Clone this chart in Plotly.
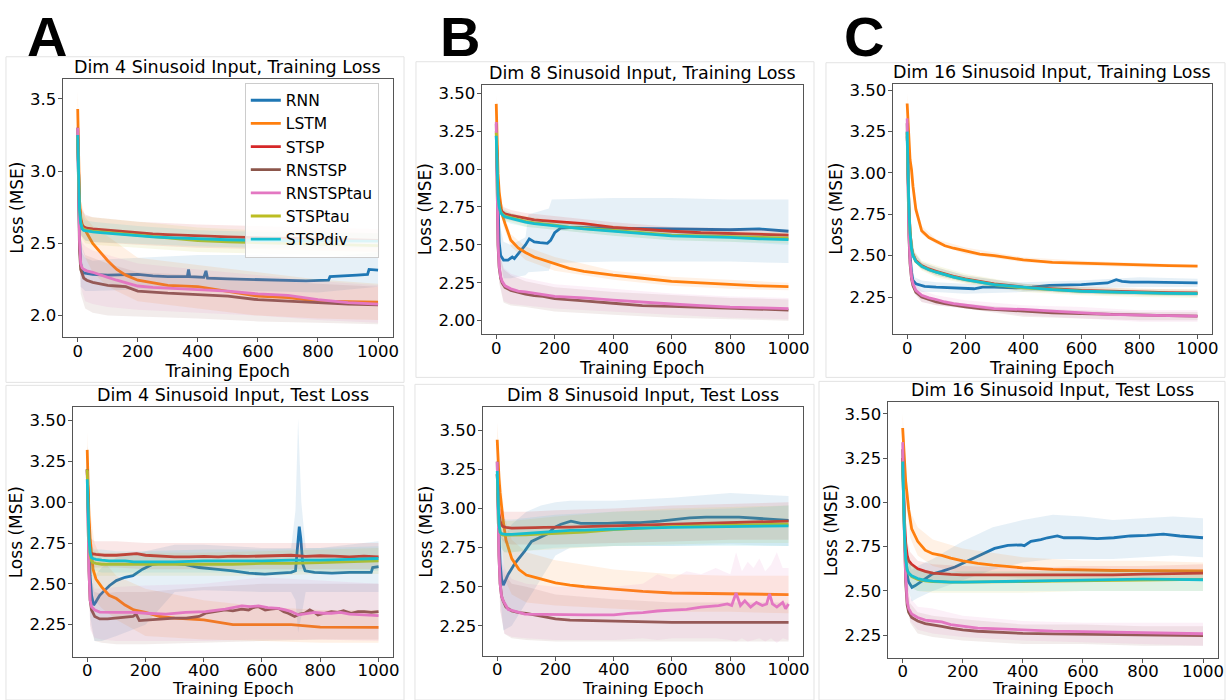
import plotly.graph_objects as go

W, H = 1231, 700
MODELS = ["RNN", "LSTM", "STSP", "RNSTSP", "RNSTSPtau", "STSPtau", "STSPdiv"]
COLORS = {"RNN": "#1f77b4", "LSTM": "#ff7f0e", "STSP": "#d62728", "RNSTSP": "#8c564b",
          "RNSTSPtau": "#e377c2", "STSPtau": "#bcbd22", "STSPdiv": "#17becf"}

EPOCHS = [0, 3, 6, 10, 15, 20, 30, 50, 75, 100, 130, 160, 200, 250, 300, 400, 500, 600, 700, 800, 900, 1000]
BAND_EPOCHS = [0, 10, 25, 50, 100, 200, 400, 600, 800, 1000]
X_TICKS = [0, 200, 400, 600, 800, 1000]

# ---------------- Panel A, training loss ----------------
A1_TITLE = "Dim 4 Sinusoid Input, Training Loss"
A1_MEAN = {
    "LSTM": [3.43, 3.05, 2.80, 2.68, 2.63, 2.61, 2.57, 2.50, 2.44, 2.38, 2.32, 2.28, 2.245, 2.225, 2.21, 2.20, 2.165, 2.135, 2.125, 2.10, 2.097, 2.094],
    "STSP": [3.25, 2.95, 2.75, 2.66, 2.625, 2.615, 2.605, 2.60, 2.595, 2.59, 2.585, 2.58, 2.57, 2.565, 2.56, 2.55, 2.545, 2.54, 2.535, 2.53, 2.525, 2.52],
    "RNSTSP": [3.30, 2.75, 2.45, 2.32, 2.28, 2.26, 2.245, 2.23, 2.22, 2.21, 2.205, 2.20, 2.17, 2.16, 2.155, 2.145, 2.135, 2.11, 2.10, 2.085, 2.08, 2.075],
    "RNSTSPtau": [3.30, 2.80, 2.52, 2.36, 2.33, 2.32, 2.31, 2.30, 2.28, 2.265, 2.245, 2.23, 2.205, 2.195, 2.19, 2.18, 2.17, 2.15, 2.14, 2.11, 2.09, 2.08],
    "STSPtau": [3.24, 2.94, 2.74, 2.65, 2.61, 2.60, 2.59, 2.585, 2.58, 2.575, 2.57, 2.565, 2.56, 2.545, 2.535, 2.52, 2.51, 2.505, 2.50, 2.495, 2.49, 2.485],
    "STSPdiv": [3.25, 2.94, 2.73, 2.64, 2.60, 2.59, 2.585, 2.58, 2.575, 2.57, 2.565, 2.56, 2.555, 2.545, 2.54, 2.53, 2.525, 2.52, 2.52, 2.518, 2.516, 2.515],
}
A1_OWN_X = {"RNN": [0, 3, 6, 10, 15, 20, 50, 100, 150, 200, 250, 300, 365, 369, 373, 420, 427, 432, 500, 600, 700, 760, 835, 840, 930, 965, 970, 1000]}
A1_OWN_Y = {"RNN": [3.22, 2.85, 2.55, 2.36, 2.31, 2.295, 2.285, 2.28, 2.28, 2.285, 2.275, 2.27, 2.27, 2.32, 2.27, 2.265, 2.31, 2.26, 2.255, 2.25, 2.245, 2.24, 2.245, 2.27, 2.28, 2.285, 2.32, 2.315]}
A1_LO = {
    "RNN": [3.10, 2.20, 2.17, 2.17, 2.17, 2.18, 2.18, 2.17, 2.16, 2.20],
    "LSTM": [3.30, 2.50, 2.40, 2.30, 2.20, 2.10, 2.05, 2.00, 1.98, 1.97],
    "STSP": [3.15, 2.56, 2.52, 2.51, 2.50, 2.49, 2.47, 2.46, 2.45, 2.44],
    "RNSTSP": [3.15, 2.15, 2.05, 2.02, 2.00, 1.99, 1.98, 1.96, 1.95, 1.94],
    "RNSTSPtau": [3.15, 2.20, 2.10, 2.08, 2.06, 2.04, 2.02, 2.00, 1.97, 1.95],
    "STSPtau": [3.14, 2.55, 2.50, 2.49, 2.48, 2.47, 2.44, 2.43, 2.42, 2.41],
    "STSPdiv": [3.15, 2.56, 2.52, 2.51, 2.51, 2.50, 2.48, 2.47, 2.47, 2.47],
}
A1_HI = {
    "RNN": [3.35, 2.45, 2.40, 2.38, 2.39, 2.40, 2.42, 2.42, 2.40, 2.44],
    "LSTM": [3.56, 2.80, 2.68, 2.62, 2.55, 2.40, 2.35, 2.30, 2.25, 2.22],
    "STSP": [3.35, 2.75, 2.70, 2.68, 2.67, 2.65, 2.63, 2.62, 2.61, 2.60],
    "RNSTSP": [3.45, 2.50, 2.42, 2.40, 2.36, 2.30, 2.28, 2.25, 2.22, 2.20],
    "RNSTSPtau": [3.45, 2.52, 2.48, 2.45, 2.42, 2.36, 2.32, 2.28, 2.24, 2.21],
    "STSPtau": [3.34, 2.74, 2.69, 2.68, 2.67, 2.65, 2.61, 2.59, 2.58, 2.57],
    "STSPdiv": [3.35, 2.72, 2.66, 2.65, 2.64, 2.62, 2.59, 2.58, 2.57, 2.57],
}
A1_BAND_X = {}
A1_YTICKS = [2.0, 2.5, 3.0, 3.5]

# ---------------- Panel B, training loss ----------------
B1_TITLE = "Dim 8 Sinusoid Input, Training Loss"
B1_MEAN = {
    "LSTM": [3.43, 3.15, 2.97, 2.85, 2.76, 2.70, 2.64, 2.53, 2.48, 2.45, 2.42, 2.40, 2.375, 2.345, 2.325, 2.30, 2.28, 2.26, 2.25, 2.24, 2.23, 2.225],
    "STSP": [3.25, 3.00, 2.85, 2.77, 2.735, 2.72, 2.705, 2.695, 2.685, 2.675, 2.665, 2.66, 2.655, 2.645, 2.64, 2.615, 2.60, 2.59, 2.58, 2.575, 2.57, 2.565],
    "RNSTSP": [3.30, 2.80, 2.50, 2.35, 2.28, 2.25, 2.22, 2.20, 2.185, 2.175, 2.165, 2.16, 2.145, 2.14, 2.13, 2.115, 2.10, 2.095, 2.09, 2.085, 2.075, 2.07],
    "RNSTSPtau": [3.31, 2.82, 2.52, 2.36, 2.29, 2.26, 2.23, 2.21, 2.195, 2.19, 2.18, 2.17, 2.16, 2.155, 2.15, 2.135, 2.12, 2.11, 2.10, 2.09, 2.085, 2.08],
    "STSPtau": [3.24, 2.99, 2.84, 2.76, 2.72, 2.705, 2.69, 2.68, 2.665, 2.655, 2.645, 2.64, 2.63, 2.615, 2.61, 2.595, 2.58, 2.565, 2.56, 2.555, 2.55, 2.545],
    "STSPdiv": [3.22, 2.98, 2.83, 2.75, 2.715, 2.70, 2.685, 2.675, 2.66, 2.65, 2.64, 2.635, 2.625, 2.615, 2.605, 2.59, 2.575, 2.56, 2.555, 2.55, 2.54, 2.535],
}
B1_OWN_X = {"RNN": [0, 3, 6, 10, 15, 20, 25, 40, 55, 62, 75, 90, 100, 113, 130, 150, 175, 186, 200, 220, 266, 400, 600, 700, 800, 900, 1000]}
B1_OWN_Y = {"RNN": [3.22, 2.95, 2.70, 2.52, 2.43, 2.41, 2.40, 2.40, 2.42, 2.41, 2.44, 2.47, 2.50, 2.54, 2.52, 2.515, 2.51, 2.53, 2.58, 2.61, 2.615, 2.61, 2.605, 2.60, 2.60, 2.605, 2.59]}
B1_BAND_X = {"RNN": [0, 10, 25, 50, 100, 110, 180, 190, 400, 600, 800, 1000]}
B1_LO = {
    "RNN": [3.10, 2.45, 2.28, 2.28, 2.30, 2.32, 2.33, 2.38, 2.39, 2.39, 2.39, 2.38],
    "LSTM": [3.38, 2.80, 2.62, 2.49, 2.40, 2.33, 2.27, 2.23, 2.21, 2.20],
    "STSP": [3.20, 2.74, 2.67, 2.66, 2.64, 2.62, 2.59, 2.56, 2.54, 2.53],
    "RNSTSP": [3.20, 2.25, 2.12, 2.10, 2.09, 2.06, 2.04, 2.02, 2.01, 2.00],
    "RNSTSPtau": [3.20, 2.26, 2.13, 2.11, 2.10, 2.08, 2.06, 2.04, 2.02, 2.01],
    "STSPtau": [3.19, 2.73, 2.66, 2.65, 2.62, 2.60, 2.56, 2.53, 2.52, 2.51],
    "STSPdiv": [3.17, 2.72, 2.66, 2.64, 2.62, 2.60, 2.56, 2.53, 2.52, 2.50],
}
B1_HI = {
    "RNN": [3.35, 2.65, 2.52, 2.50, 2.55, 2.70, 2.74, 2.80, 2.81, 2.81, 2.80, 2.80],
    "LSTM": [3.49, 2.90, 2.70, 2.57, 2.49, 2.42, 2.33, 2.29, 2.27, 2.25],
    "STSP": [3.30, 2.81, 2.75, 2.73, 2.71, 2.69, 2.65, 2.62, 2.61, 2.60],
    "RNSTSP": [3.40, 2.45, 2.34, 2.30, 2.26, 2.22, 2.19, 2.17, 2.15, 2.14],
    "RNSTSPtau": [3.42, 2.46, 2.35, 2.31, 2.28, 2.24, 2.21, 2.18, 2.16, 2.15],
    "STSPtau": [3.29, 2.80, 2.74, 2.71, 2.69, 2.66, 2.63, 2.60, 2.59, 2.58],
    "STSPdiv": [3.27, 2.79, 2.73, 2.71, 2.68, 2.65, 2.62, 2.59, 2.58, 2.57],
}
B1_YTICKS = [2.00, 2.25, 2.50, 2.75, 3.00, 3.25, 3.50]

# ---------------- Panel C, training loss ----------------
C1_TITLE = "Dim 16 Sinusoid Input, Training Loss"
C1_MEAN = {
    "LSTM": [3.42, 3.30, 3.18, 3.08, 3.02, 2.92, 2.78, 2.65, 2.61, 2.585, 2.56, 2.545, 2.53, 2.51, 2.50, 2.475, 2.46, 2.455, 2.447, 2.443, 2.44, 2.437],
    "STSP": [3.25, 3.00, 2.80, 2.65, 2.55, 2.51, 2.47, 2.44, 2.42, 2.405, 2.39, 2.375, 2.36, 2.345, 2.33, 2.31, 2.30, 2.29, 2.285, 2.28, 2.277, 2.275],
    "RNSTSP": [3.30, 2.90, 2.62, 2.45, 2.36, 2.32, 2.28, 2.25, 2.235, 2.22, 2.21, 2.20, 2.19, 2.18, 2.175, 2.165, 2.155, 2.15, 2.145, 2.14, 2.138, 2.135],
    "RNSTSPtau": [3.33, 2.92, 2.64, 2.47, 2.37, 2.33, 2.29, 2.26, 2.245, 2.235, 2.22, 2.21, 2.20, 2.19, 2.18, 2.175, 2.165, 2.155, 2.145, 2.14, 2.137, 2.135],
    "STSPtau": [3.24, 2.99, 2.79, 2.64, 2.545, 2.505, 2.465, 2.435, 2.415, 2.40, 2.385, 2.37, 2.355, 2.34, 2.325, 2.305, 2.295, 2.285, 2.28, 2.275, 2.272, 2.27],
    "STSPdiv": [3.25, 2.99, 2.79, 2.64, 2.54, 2.50, 2.465, 2.435, 2.415, 2.40, 2.385, 2.37, 2.355, 2.34, 2.325, 2.31, 2.295, 2.285, 2.28, 2.275, 2.272, 2.27],
}
C1_OWN_X = {"RNN": [0, 3, 6, 10, 15, 20, 30, 60, 100, 150, 200, 230, 260, 300, 370, 430, 490, 600, 690, 705, 720, 740, 770, 830, 1000]}
C1_OWN_Y = {"RNN": [3.22, 2.95, 2.68, 2.50, 2.40, 2.35, 2.33, 2.315, 2.31, 2.305, 2.30, 2.30, 2.31, 2.31, 2.305, 2.31, 2.32, 2.325, 2.335, 2.345, 2.355, 2.345, 2.34, 2.34, 2.335]}
C1_BAND_X = {}
C1_LO = {
    "RNN": [3.15, 2.45, 2.30, 2.28, 2.28, 2.27, 2.28, 2.30, 2.31, 2.31],
    "LSTM": [3.38, 3.04, 2.80, 2.63, 2.57, 2.51, 2.46, 2.44, 2.43, 2.43],
    "STSP": [3.20, 2.62, 2.47, 2.42, 2.38, 2.34, 2.29, 2.27, 2.26, 2.255],
    "RNSTSP": [3.25, 2.42, 2.27, 2.22, 2.20, 2.18, 2.13, 2.12, 2.11, 2.11],
    "RNSTSPtau": [3.28, 2.43, 2.28, 2.22, 2.20, 2.18, 2.14, 2.12, 2.10, 2.10],
    "STSPtau": [3.19, 2.61, 2.46, 2.41, 2.37, 2.33, 2.28, 2.26, 2.25, 2.245],
    "STSPdiv": [3.20, 2.61, 2.47, 2.42, 2.38, 2.34, 2.29, 2.27, 2.26, 2.255],
}
C1_HI = {
    "RNN": [3.30, 2.56, 2.37, 2.35, 2.34, 2.33, 2.34, 2.35, 2.37, 2.36],
    "LSTM": [3.48, 3.12, 2.86, 2.68, 2.60, 2.55, 2.49, 2.47, 2.455, 2.445],
    "STSP": [3.30, 2.68, 2.52, 2.46, 2.43, 2.38, 2.33, 2.31, 2.30, 2.295],
    "RNSTSP": [3.35, 2.48, 2.31, 2.26, 2.24, 2.21, 2.18, 2.17, 2.16, 2.16],
    "RNSTSPtau": [3.38, 2.51, 2.34, 2.29, 2.26, 2.23, 2.20, 2.19, 2.17, 2.17],
    "STSPtau": [3.29, 2.68, 2.53, 2.47, 2.44, 2.39, 2.33, 2.31, 2.30, 2.295],
    "STSPdiv": [3.30, 2.67, 2.52, 2.46, 2.43, 2.38, 2.33, 2.30, 2.29, 2.285],
}
C1_YTICKS = [2.25, 2.50, 2.75, 3.00, 3.25, 3.50]

# ---------------- Panel A, test loss ----------------
A2_TITLE = "Dim 4 Sinusoid Input, Test Loss"
A2_MEAN = {
    "LSTM": [3.32, 3.10, 2.92, 2.78, 2.66, 2.59, 2.53, 2.48, 2.43, 2.41, 2.37, 2.34, 2.325, 2.30, 2.29, 2.28, 2.25, 2.25, 2.25, 2.235, 2.234, 2.234],
    "STSPtau": [3.20, 2.95, 2.78, 2.68, 2.64, 2.63, 2.625, 2.62, 2.62, 2.62, 2.62, 2.62, 2.62, 2.62, 2.62, 2.62, 2.62, 2.625, 2.625, 2.63, 2.635, 2.64],
    "STSPdiv": [3.14, 2.92, 2.78, 2.69, 2.66, 2.655, 2.65, 2.645, 2.64, 2.64, 2.64, 2.635, 2.635, 2.635, 2.635, 2.64, 2.64, 2.64, 2.645, 2.645, 2.65, 2.655],
}
A2_OWN_X = {
    "RNN": [0, 3, 6, 10, 15, 22, 30, 43, 60, 77, 100, 130, 157, 190, 225, 270, 330, 384, 440, 500, 555, 610, 660, 700, 715, 722, 728, 733, 740, 748, 780, 840, 900, 975, 980, 1000],
    "STSP": [0, 3, 6, 10, 15, 30, 60, 100, 150, 170, 200, 250, 300, 350, 400, 450, 500, 550, 600, 650, 700, 750, 800, 850, 900, 950, 1000],
    "RNSTSP": [0, 3, 6, 10, 15, 26, 43, 70, 100, 134, 157, 168, 179, 213, 250, 300, 340, 384, 406, 440, 474, 500, 530, 554, 570, 588, 611, 630, 656, 675, 690, 712, 730, 747, 764, 780, 792, 815, 838, 860, 880, 906, 930, 951, 975, 1000],
    "RNSTSPtau": [0, 3, 6, 10, 15, 26, 43, 100, 157, 202, 270, 338, 406, 474, 497, 531, 560, 588, 620, 656, 680, 701, 724, 750, 781, 810, 838, 870, 900, 951, 980, 1000],
}
A2_OWN_Y = {
    "RNN": [3.20, 2.95, 2.72, 2.55, 2.43, 2.37, 2.39, 2.43, 2.46, 2.49, 2.52, 2.54, 2.55, 2.59, 2.62, 2.63, 2.62, 2.60, 2.59, 2.58, 2.565, 2.56, 2.565, 2.57, 2.58, 2.75, 2.85, 2.78, 2.62, 2.58, 2.57, 2.565, 2.57, 2.57, 2.60, 2.605],
    "STSP": [3.20, 2.95, 2.80, 2.70, 2.685, 2.68, 2.675, 2.675, 2.68, 2.685, 2.675, 2.67, 2.665, 2.665, 2.668, 2.665, 2.67, 2.668, 2.67, 2.672, 2.675, 2.668, 2.672, 2.67, 2.665, 2.67, 2.665],
    "RNSTSP": [3.20, 2.85, 2.58, 2.40, 2.34, 2.30, 2.285, 2.285, 2.29, 2.295, 2.30, 2.315, 2.275, 2.28, 2.285, 2.29, 2.29, 2.30, 2.32, 2.33, 2.34, 2.335, 2.345, 2.34, 2.355, 2.36, 2.34, 2.345, 2.35, 2.33, 2.32, 2.30, 2.315, 2.32, 2.34, 2.325, 2.31, 2.32, 2.33, 2.325, 2.335, 2.32, 2.33, 2.33, 2.325, 2.33],
    "RNSTSPtau": [3.19, 2.85, 2.58, 2.40, 2.36, 2.34, 2.327, 2.325, 2.325, 2.32, 2.315, 2.325, 2.33, 2.345, 2.355, 2.365, 2.36, 2.365, 2.355, 2.35, 2.34, 2.33, 2.31, 2.315, 2.325, 2.32, 2.32, 2.325, 2.315, 2.31, 2.31, 2.306],
}
A2_BAND_X = {"RNN": [0, 10, 25, 50, 100, 200, 300, 400, 600, 700, 715, 724, 735, 750, 800, 1000]}
A2_LO = {
    "RNN": [3.05, 2.30, 2.15, 2.15, 2.18, 2.25, 2.45, 2.46, 2.45, 2.45, 2.40, 2.20, 2.30, 2.45, 2.45, 2.45],
    "LSTM": [3.20, 2.62, 2.40, 2.35, 2.28, 2.18, 2.16, 2.15, 2.14, 2.14],
    "STSP": [3.05, 2.62, 2.60, 2.60, 2.60, 2.59, 2.59, 2.59, 2.59, 2.59],
    "RNSTSP": [3.05, 2.25, 2.15, 2.14, 2.13, 2.13, 2.14, 2.15, 2.16, 2.16],
    "RNSTSPtau": [3.05, 2.22, 2.17, 2.16, 2.15, 2.15, 2.15, 2.16, 2.16, 2.15],
    "STSPtau": [3.05, 2.58, 2.55, 2.55, 2.55, 2.55, 2.55, 2.55, 2.56, 2.56],
    "STSPdiv": [3.00, 2.60, 2.58, 2.57, 2.57, 2.57, 2.57, 2.57, 2.58, 2.58],
}
A2_HI = {
    "RNN": [3.35, 2.65, 2.55, 2.60, 2.66, 2.70, 2.74, 2.74, 2.72, 2.72, 2.95, 3.51, 3.00, 2.72, 2.72, 2.76],
    "LSTM": [3.43, 2.95, 2.75, 2.65, 2.55, 2.47, 2.40, 2.36, 2.34, 2.34],
    "STSP": [3.35, 2.78, 2.76, 2.76, 2.76, 2.75, 2.75, 2.75, 2.75, 2.75],
    "RNSTSP": [3.35, 2.55, 2.45, 2.44, 2.45, 2.45, 2.48, 2.50, 2.50, 2.50],
    "RNSTSPtau": [3.33, 2.56, 2.47, 2.47, 2.48, 2.49, 2.50, 2.54, 2.52, 2.50],
    "STSPtau": [3.35, 2.74, 2.70, 2.69, 2.69, 2.69, 2.69, 2.70, 2.71, 2.72],
    "STSPdiv": [3.28, 2.74, 2.71, 2.71, 2.70, 2.70, 2.71, 2.71, 2.72, 2.73],
}
A2_YTICKS = [2.25, 2.50, 2.75, 3.00, 3.25, 3.50]

# ---------------- Panel B, test loss ----------------
B2_TITLE = "Dim 8 Sinusoid Input, Test Loss"
B2_MEAN = {
    "LSTM": [3.44, 3.30, 3.20, 3.10, 3.01, 2.93, 2.80, 2.68, 2.61, 2.575, 2.56, 2.545, 2.525, 2.51, 2.50, 2.485, 2.47, 2.46, 2.457, 2.455, 2.452, 2.45],
    "STSP": [3.22, 3.05, 2.97, 2.92, 2.895, 2.885, 2.88, 2.875, 2.875, 2.875, 2.878, 2.88, 2.88, 2.882, 2.885, 2.89, 2.895, 2.90, 2.905, 2.91, 2.915, 2.92],
    "RNSTSP": [3.30, 2.95, 2.70, 2.52, 2.44, 2.41, 2.37, 2.345, 2.335, 2.33, 2.32, 2.31, 2.295, 2.287, 2.285, 2.277, 2.273, 2.272, 2.272, 2.272, 2.27, 2.272],
    "STSPtau": [3.22, 3.00, 2.90, 2.85, 2.835, 2.83, 2.83, 2.83, 2.83, 2.832, 2.835, 2.838, 2.84, 2.845, 2.85, 2.865, 2.875, 2.885, 2.89, 2.895, 2.898, 2.90],
    "STSPdiv": [3.24, 3.00, 2.90, 2.85, 2.84, 2.838, 2.835, 2.835, 2.838, 2.84, 2.845, 2.85, 2.855, 2.86, 2.862, 2.87, 2.875, 2.88, 2.882, 2.885, 2.888, 2.89],
}
B2_OWN_X = {
    "RNN": [0, 3, 6, 10, 15, 21, 38, 61, 95, 118, 152, 174, 197, 219, 253, 287, 378, 434, 491, 559, 661, 717, 830, 943, 1000],
    "RNSTSPtau": [0, 3, 6, 10, 15, 21, 38, 95, 200, 300, 400, 450, 500, 550, 600, 650, 700, 730, 760, 790, 805, 820, 835, 850, 870, 890, 910, 925, 935, 945, 960, 980, 990, 1000],
}
B2_OWN_Y = {
    "RNN": [3.22, 3.00, 2.80, 2.65, 2.55, 2.51, 2.58, 2.65, 2.73, 2.79, 2.82, 2.84, 2.88, 2.90, 2.92, 2.905, 2.905, 2.91, 2.91, 2.92, 2.94, 2.945, 2.945, 2.93, 2.925],
    "RNSTSPtau": [3.30, 2.95, 2.70, 2.52, 2.44, 2.41, 2.355, 2.325, 2.32, 2.32, 2.32, 2.33, 2.335, 2.345, 2.35, 2.355, 2.37, 2.375, 2.38, 2.39, 2.38, 2.46, 2.38, 2.41, 2.37, 2.40, 2.38, 2.39, 2.455, 2.39, 2.37, 2.40, 2.36, 2.39],
}
B2_BAND_X = {
    "RNN": [0, 10, 21, 50, 100, 150, 200, 250, 400, 600, 800, 1000],
    "RNSTSPtau": [0, 10, 25, 50, 100, 200, 400, 500, 550, 600, 650, 700, 750, 800, 820, 840, 860, 880, 900, 920, 940, 960, 980, 1000],
}
B2_LO = {
    "RNN": [3.10, 2.45, 2.22, 2.25, 2.40, 2.55, 2.70, 2.75, 2.76, 2.76, 2.77, 2.76],
    "LSTM": [3.35, 2.95, 2.55, 2.45, 2.40, 2.38, 2.36, 2.34, 2.34, 2.33],
    "STSP": [3.12, 2.82, 2.78, 2.77, 2.77, 2.77, 2.78, 2.79, 2.80, 2.80],
    "RNSTSP": [3.20, 2.35, 2.20, 2.17, 2.16, 2.15, 2.15, 2.15, 2.15, 2.15],
    "RNSTSPtau": [3.20, 2.35, 2.20, 2.18, 2.17, 2.16, 2.16, 2.17, 2.16, 2.17, 2.17, 2.17, 2.17, 2.16, 2.15, 2.17, 2.15, 2.16, 2.17, 2.15, 2.17, 2.14, 2.17, 2.16],
    "STSPtau": [3.12, 2.76, 2.72, 2.72, 2.73, 2.74, 2.76, 2.77, 2.78, 2.78],
    "STSPdiv": [3.14, 2.75, 2.72, 2.72, 2.73, 2.75, 2.76, 2.76, 2.76, 2.76],
}
B2_HI = {
    "RNN": [3.35, 2.85, 2.80, 2.90, 2.98, 3.02, 3.04, 3.05, 3.05, 3.07, 3.10, 3.08],
    "LSTM": [3.55, 3.25, 2.95, 2.80, 2.72, 2.67, 2.61, 2.58, 2.57, 2.57],
    "STSP": [3.32, 3.00, 2.98, 2.98, 2.98, 2.99, 3.00, 3.02, 3.03, 3.04],
    "RNSTSP": [3.40, 2.70, 2.58, 2.52, 2.50, 2.45, 2.42, 2.40, 2.40, 2.40],
    "RNSTSPtau": [3.40, 2.72, 2.62, 2.55, 2.52, 2.50, 2.50, 2.52, 2.58, 2.55, 2.60, 2.58, 2.62, 2.58, 2.72, 2.60, 2.66, 2.62, 2.68, 2.60, 2.64, 2.72, 2.62, 2.62],
    "STSPtau": [3.32, 2.94, 2.92, 2.92, 2.93, 2.95, 2.98, 3.00, 3.01, 3.02],
    "STSPdiv": [3.34, 2.95, 2.93, 2.93, 2.94, 2.96, 2.98, 2.99, 3.00, 3.02],
}
B2_YTICKS = [2.25, 2.50, 2.75, 3.00, 3.25, 3.50]

# ---------------- Panel C, test loss ----------------
C2_TITLE = "Dim 16 Sinusoid Input, Test Loss"
C2_MEAN = {
    "LSTM": [3.42, 3.30, 3.20, 3.12, 3.04, 2.96, 2.85, 2.78, 2.73, 2.71, 2.70, 2.685, 2.67, 2.655, 2.645, 2.63, 2.622, 2.617, 2.615, 2.614, 2.613, 2.613],
    "STSP": [3.25, 3.05, 2.90, 2.77, 2.70, 2.67, 2.65, 2.625, 2.61, 2.60, 2.595, 2.593, 2.59, 2.59, 2.59, 2.59, 2.59, 2.592, 2.59, 2.595, 2.598, 2.60],
    "RNSTSP": [3.30, 3.00, 2.75, 2.55, 2.42, 2.38, 2.35, 2.33, 2.315, 2.31, 2.30, 2.29, 2.28, 2.272, 2.268, 2.26, 2.257, 2.255, 2.253, 2.252, 2.25, 2.248],
    "RNSTSPtau": [3.34, 3.02, 2.78, 2.58, 2.44, 2.40, 2.37, 2.35, 2.335, 2.33, 2.325, 2.31, 2.30, 2.29, 2.287, 2.278, 2.273, 2.27, 2.267, 2.265, 2.262, 2.258],
    "STSPtau": [3.23, 3.00, 2.82, 2.68, 2.62, 2.60, 2.58, 2.565, 2.556, 2.553, 2.55, 2.55, 2.55, 2.55, 2.55, 2.553, 2.555, 2.557, 2.56, 2.562, 2.563, 2.565],
    "STSPdiv": [3.23, 3.00, 2.82, 2.68, 2.62, 2.60, 2.585, 2.57, 2.56, 2.555, 2.552, 2.55, 2.55, 2.55, 2.552, 2.555, 2.558, 2.56, 2.563, 2.566, 2.565, 2.563],
}
C2_OWN_X = {"RNN": [0, 3, 6, 10, 15, 20, 31, 42, 64, 97, 130, 174, 218, 262, 306, 350, 394, 405, 427, 460, 482, 515, 537, 592, 648, 703, 758, 813, 868, 923, 1000]}
C2_OWN_Y = {"RNN": [3.22, 3.00, 2.82, 2.68, 2.59, 2.55, 2.52, 2.53, 2.557, 2.594, 2.61, 2.635, 2.67, 2.705, 2.74, 2.757, 2.76, 2.755, 2.78, 2.79, 2.80, 2.81, 2.80, 2.80, 2.795, 2.80, 2.81, 2.814, 2.82, 2.81, 2.80]}
C2_BAND_X = {"RNN": [0, 10, 30, 50, 100, 200, 300, 400, 500, 600, 700, 800, 900, 1000]}
C2_LO = {
    "RNN": [3.10, 2.56, 2.44, 2.46, 2.50, 2.56, 2.62, 2.66, 2.68, 2.68, 2.68, 2.69, 2.70, 2.69],
    "LSTM": [3.35, 3.02, 2.80, 2.70, 2.64, 2.60, 2.57, 2.56, 2.56, 2.56],
    "STSP": [3.20, 2.72, 2.60, 2.56, 2.55, 2.55, 2.55, 2.55, 2.56, 2.56],
    "RNSTSP": [3.25, 2.50, 2.32, 2.26, 2.24, 2.22, 2.20, 2.20, 2.19, 2.19],
    "RNSTSPtau": [3.28, 2.52, 2.33, 2.28, 2.26, 2.24, 2.22, 2.21, 2.20, 2.19],
    "STSPtau": [3.18, 2.62, 2.52, 2.50, 2.49, 2.49, 2.49, 2.50, 2.50, 2.50],
    "STSPdiv": [3.18, 2.62, 2.52, 2.50, 2.50, 2.50, 2.50, 2.50, 2.50, 2.50],
}
C2_HI = {
    "RNN": [3.35, 2.75, 2.62, 2.64, 2.68, 2.78, 2.86, 2.90, 2.93, 2.92, 2.90, 2.91, 2.92, 2.91],
    "LSTM": [3.50, 3.20, 2.95, 2.86, 2.79, 2.74, 2.69, 2.67, 2.67, 2.66],
    "STSP": [3.30, 2.82, 2.72, 2.67, 2.65, 2.64, 2.63, 2.64, 2.64, 2.65],
    "RNSTSP": [3.35, 2.62, 2.43, 2.38, 2.36, 2.34, 2.31, 2.31, 2.30, 2.30],
    "RNSTSPtau": [3.40, 2.66, 2.46, 2.41, 2.40, 2.36, 2.33, 2.32, 2.32, 2.32],
    "STSPtau": [3.28, 2.74, 2.66, 2.62, 2.61, 2.61, 2.61, 2.61, 2.62, 2.62],
    "STSPdiv": [3.28, 2.74, 2.66, 2.62, 2.61, 2.61, 2.61, 2.62, 2.62, 2.62],
}
C2_YTICKS = [2.25, 2.50, 2.75, 3.00, 3.25, 3.50]

# ------------- layout (pixel boxes of each axes area, y ranges) -------------
PANELS = [
    dict(title=A1_TITLE, mean=A1_MEAN, ox=A1_OWN_X, oy=A1_OWN_Y, bx=A1_BAND_X, lo=A1_LO, hi=A1_HI,
         yticks=A1_YTICKS, fmt=".1f", box=(63, 76, 395, 335), yr=(1.855, 3.64), legend=True, row=1),
    dict(title=B1_TITLE, mean=B1_MEAN, ox=B1_OWN_X, oy=B1_OWN_Y, bx=B1_BAND_X, lo=B1_LO, hi=B1_HI,
         yticks=B1_YTICKS, fmt=".2f", box=(484, 82, 807, 332), yr=(1.915, 3.557), legend=False, row=1),
    dict(title=C1_TITLE, mean=C1_MEAN, ox=C1_OWN_X, oy=C1_OWN_Y, bx=C1_BAND_X, lo=C1_LO, hi=C1_HI,
         yticks=C1_YTICKS, fmt=".2f", box=(897, 81, 1218, 332), yr=(2.029, 3.54), legend=False, row=1),
    dict(title=A2_TITLE, mean=A2_MEAN, ox=A2_OWN_X, oy=A2_OWN_Y, bx=A2_BAND_X, lo=A2_LO, hi=A2_HI,
         yticks=A2_YTICKS, fmt=".2f", box=(73, 406, 395, 657), yr=(2.051, 3.581), legend=False, row=2),
    dict(title=B2_TITLE, mean=B2_MEAN, ox=B2_OWN_X, oy=B2_OWN_Y, bx=B2_BAND_X, lo=B2_LO, hi=B2_HI,
         yticks=B2_YTICKS, fmt=".2f", box=(485, 406, 807, 656), yr=(2.056, 3.648), legend=False, row=2),
    dict(title=C2_TITLE, mean=C2_MEAN, ox=C2_OWN_X, oy=C2_OWN_Y, bx=C2_BAND_X, lo=C2_LO, hi=C2_HI,
         yticks=C2_YTICKS, fmt=".2f", box=(892, 401, 1224, 658), yr=(2.12, 3.565), legend=False, row=2),
]
FRAMES = [(6, 54, 406, 381), (6, 384, 406, 700), (418, 59, 818, 376),
          (417, 383, 818, 700), (830, 60, 1231, 376), (823, 380, 1231, 700)]
LETTERS = [("A", 47), ("B", 462), ("C", 868)]

FONT = "DejaVu Sans, Liberation Sans, sans-serif"


def rgba(hex_color, a):
    h = hex_color.lstrip("#")
    return "rgba(%d,%d,%d,%.3f)" % (int(h[0:2], 16), int(h[2:4], 16), int(h[4:6], 16), a)


fig = go.Figure()
layout = dict(
    width=W, height=H, autosize=False,
    margin=dict(l=0, r=0, t=0, b=0),
    paper_bgcolor="white", plot_bgcolor="white",
    font=dict(family=FONT, color="black", size=16),
    showlegend=True,
    legend=dict(x=246 / W, y=1 - 80 / H, xanchor="left", yanchor="top",
                bgcolor="rgba(255,255,255,0.85)", bordercolor="#cccccc", borderwidth=1,
                font=dict(family=FONT, size=15.5), traceorder="grouped", tracegroupgap=0,
                itemwidth=30),
)
annotations = []
shapes = []

for i, p in enumerate(PANELS):
    n = i + 1
    xa = "x" if n == 1 else "x%d" % n
    ya = "y" if n == 1 else "y%d" % n
    for m in MODELS:
        c = COLORS[m]
        bx = p["bx"].get(m, BAND_EPOCHS)
        lo, hi = p["lo"][m], p["hi"][m]
        fig.add_trace(go.Scatter(
            x=list(bx) + list(bx)[::-1], y=list(hi) + list(lo)[::-1],
            fill="toself", fillcolor=rgba(c, 0.11), line=dict(width=0),
            mode="lines", hoverinfo="skip", showlegend=False, legendgroup=m,
            xaxis=xa, yaxis=ya))
        if m in p["ox"]:
            xs, ys = p["ox"][m], p["oy"][m]
        else:
            xs, ys = EPOCHS, p["mean"][m]
        fig.add_trace(go.Scatter(
            x=xs, y=ys, mode="lines", name=m, line=dict(color=c, width=2.8),
            showlegend=p["legend"], legendgroup=m, xaxis=xa, yaxis=ya))

    x0, y0, x1, y1 = p["box"]
    axkey_x = "xaxis" if n == 1 else "xaxis%d" % n
    axkey_y = "yaxis" if n == 1 else "yaxis%d" % n
    common = dict(showgrid=False, zeroline=False, showline=True, mirror=True,
                  linecolor="#555555", linewidth=1.2, ticks="outside", ticklen=4,
                  tickcolor="#555555", tickfont=dict(family=FONT, size=16.5, color="black"))
    xaxis = dict(common, domain=[x0 / W, x1 / W], range=[-50, 1050],
                 tickvals=X_TICKS, anchor=ya)
    if p["row"] == 1:
        xaxis["ticklabelstandoff"] = -4
        xaxis["title"] = dict(text="Training Epoch", font=dict(family=FONT, size=17), standoff=1)
    else:
        xaxis["ticklabelstandoff"] = -6
        annotations.append(dict(text="Training Epoch", xref=xa + " domain", yref="paper",
                                x=0.5, y=0, xanchor="center", yanchor="bottom", showarrow=False,
                                font=dict(family=FONT, size=16.5, color="black")))
    layout[axkey_x] = xaxis
    layout[axkey_y] = dict(common, domain=[1 - y1 / H, 1 - y0 / H], range=list(p["yr"]),
                           tickvals=p["yticks"], tickformat=p["fmt"], anchor=xa, ticklabelstandoff=-2,
                           title=dict(text="Loss (MSE)", font=dict(family=FONT, size=17), standoff=2))
    annotations.append(dict(text=p["title"], xref=xa + " domain", yref=ya + " domain",
                            x=0.5, y=1, xanchor="center", yanchor="bottom", showarrow=False,
                            yshift=0, font=dict(family=FONT, size=17.5, color="black")))

for (fx0, fy0, fx1, fy1) in FRAMES:
    shapes.append(dict(type="rect", xref="paper", yref="paper", layer="below",
                       x0=fx0 / W, x1=fx1 / W, y0=1 - fy1 / H, y1=1 - fy0 / H,
                       line=dict(color="#e3e3e3", width=1), fillcolor="rgba(0,0,0,0)"))

for letter, cx in LETTERS:
    annotations.append(dict(text=letter, xref="paper", yref="paper", x=cx / W, y=1,
                            xanchor="center", yanchor="top", showarrow=False,
                            font=dict(family="Liberation Sans, Arial, sans-serif", size=56,
                                      color="black", weight="bold")))

layout["annotations"] = annotations
layout["shapes"] = shapes
fig.update_layout(**layout)
fig.write_html("out.html")
